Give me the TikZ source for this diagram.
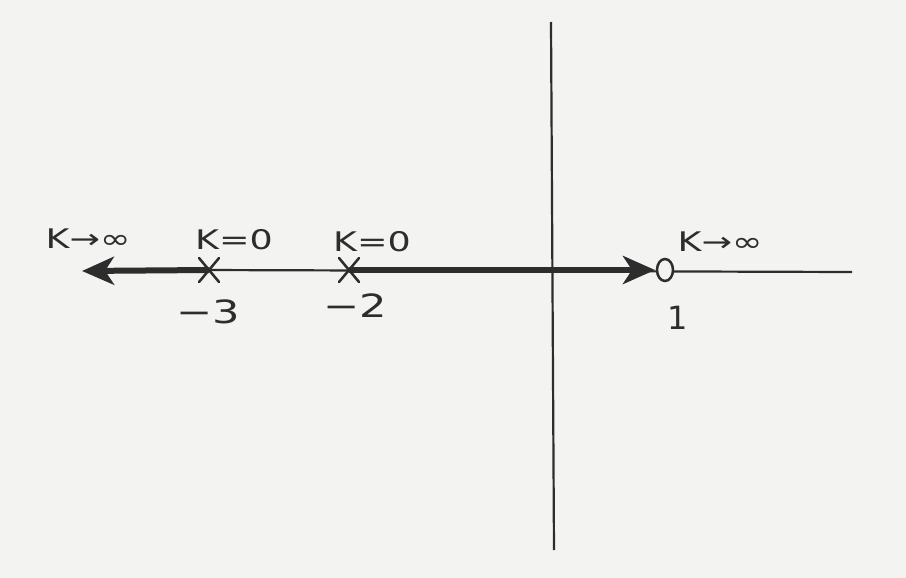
\documentclass[tikz,border=0pt]{standalone}
\usepackage{fontspec}
\setmainfont{DejaVu Sans}
\usetikzlibrary{arrows.meta,calc,shapes.geometric}
\definecolor{paper}{RGB}{243,243,241}
\definecolor{ink}{RGB}{45,45,45}
\newcommand{\wide}[1]{\scalebox{1.35}[1]{#1}}
\tikzset{
  lbl/.style={text=ink, font=\fontsize{27}{30}\selectfont, inner sep=0pt},
  num/.style={text=ink, font=\fontsize{32}{34}\selectfont, inner sep=0pt},
  axisline/.style={draw=ink, line width=2.2pt},
  locus/.style={draw=ink, line width=6pt},
  polemark/.style={draw=ink, line width=2.5pt, line cap=round},
  locusarrow/.style={-{Stealth[length=32pt,width=28pt,inset=9pt]}}
}
\begin{document}
\begin{tikzpicture}[x=1pt,y=-1pt]
\fill[paper] (0,0) rectangle (906,578);
\useasboundingbox (0,0) rectangle (906,578);
% coordinates
\coordinate (axL) at (200,270);
\coordinate (axR) at (852,272);
\coordinate (axT) at (551,22);
\coordinate (axB) at (554,550);
\coordinate (p3) at (209,270);
\coordinate (p2) at (349,270);
\coordinate (z1) at (665,270);
\coordinate (tipL) at (82,271);
\coordinate (tipR) at (655,270);
% axes
\draw[axisline] (axL) -- (axR);
\draw[axisline] (axT) -- (axB);
% locus
\draw[locus,locusarrow] (p3) -- (tipL);
\draw[locus,locusarrow] (p2) -- (tipR);
% poles
\draw[polemark] ($(p3)+(-10,-12)$) -- ($(p3)+(10,12)$);
\draw[polemark] ($(p3)+(10,-12)$) -- ($(p3)+(-10,12)$);
\draw[polemark] ($(p2)+(-10,-12)$) -- ($(p2)+(10,12)$);
\draw[polemark] ($(p2)+(10,-12)$) -- ($(p2)+(-10,12)$);
% zero
\node[draw=ink, line width=2.5pt, ellipse, minimum width=16pt, minimum height=22pt, inner sep=0pt, fill=paper] (zero) at (z1) {};
% labels
\node[lbl] (kinfL) at (88,239) {\wide{K→∞}};
\node[lbl] (k0a) at (234,240) {\wide{K=0}};
\node[lbl] (k0b) at (372,242) {\wide{K=0}};
\node[lbl] (kinfR) at (720,242) {\wide{K→∞}};
\node[num] (nm3) at (208,312) {\wide{−3}};
\node[num] (nm2) at (355,306) {\wide{−2}};
\node[num] (n1) at (678,318) {1};
\end{tikzpicture}
\end{document}
